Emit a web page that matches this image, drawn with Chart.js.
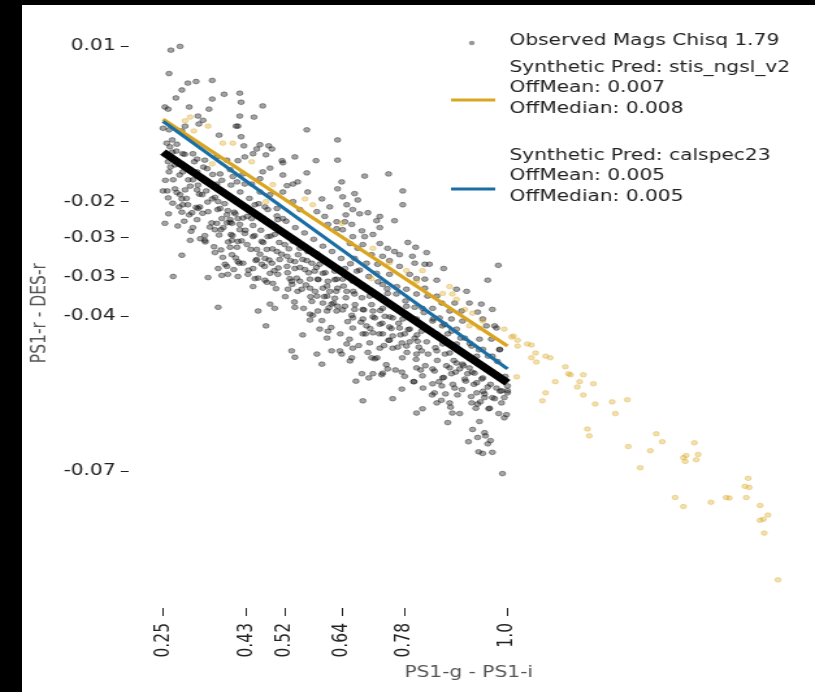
<!DOCTYPE html>
<html>
<head>
<meta charset="utf-8">
<script src="https://cdn.jsdelivr.net/npm/chart.js@4.4.1/dist/chart.umd.min.js"></script>
<style>
  body { margin: 0; background: #000; }
  #paper { position: absolute; left: 22px; top: 5px; width: 793px; height: 687px; background: #fff; overflow: hidden; }
  /* the reference figure is stretched horizontally, so stretch the canvas the same way */
  #stretch { width: 610px; height: 687px; transform: scaleX(1.3); transform-origin: 0 0; }
</style>
</head>
<body>
<div id="paper"><div id="stretch"><canvas id="mycanvas" width="610" height="687"></canvas></div></div>
<script>
// observed stars: [PS1-g - PS1-i, PS1-r - DES-r]
var observed = [
  [0.267,0.0093],[0.287,0.0100],[0.263,0.0049],[0.304,0.0031],[0.322,0.0034],[0.357,0.0036],[0.291,0.0018],[0.278,0.0003],
  [0.357,0.0001],[0.383,0.0010],[0.417,0.0012],[0.420,-0.0005],[0.254,-0.0014],[0.261,-0.0018],[0.307,-0.0014],[0.350,-0.0018],
  [0.417,-0.0031],[0.326,-0.0031],[0.337,-0.0039],[0.328,-0.0046],[0.409,-0.0050],[0.413,-0.0050],[0.250,-0.0054],[0.263,-0.0057],
  [0.298,-0.0050],[0.291,-0.0059],[0.372,-0.0067],[0.420,-0.0070],[0.270,-0.0076],[0.280,-0.0084],[0.426,-0.0087],[0.265,-0.0089],
  [0.270,-0.0099],[0.293,-0.0102],[0.315,-0.0102],[0.324,-0.0112],[0.341,-0.0114],[0.367,-0.0108],[0.389,-0.0114],[0.413,-0.0115],
  [0.428,-0.0108],[0.261,-0.0117],[0.276,-0.0123],[0.298,-0.0127],[0.263,-0.0136],[0.293,-0.0136],[0.324,-0.0136],[0.346,-0.0130],
  [0.374,-0.0140],[0.396,-0.0132],[0.402,-0.0145],[0.424,-0.0140],[0.272,-0.0151],[0.315,-0.0151],[0.341,-0.0151],[0.367,-0.0159],
  [0.411,-0.0155],[0.428,-0.0159],
  [0.250,-0.0172],[0.259,-0.0172],[0.261,-0.0185],[0.280,-0.0175],[0.287,-0.0179],[0.291,-0.0187],[0.298,-0.0170],[0.293,-0.0198],
  [0.304,-0.0198],[0.285,-0.0202],[0.324,-0.0170],[0.335,-0.0179],[0.357,-0.0187],[0.370,-0.0192],[0.326,-0.0205],[0.330,-0.0202],
  [0.313,-0.0213],[0.307,-0.0217],[0.348,-0.0211],[0.374,-0.0205],[0.391,-0.0209],[0.407,-0.0215],[0.378,-0.0224],[0.396,-0.0226],
  [0.413,-0.0224],[0.433,-0.0220],[0.367,-0.0233],[0.389,-0.0232],[0.400,-0.0233],[0.417,-0.0235],[0.254,-0.0233],[0.324,-0.0226],
  [0.363,-0.0245],[0.376,-0.0245],[0.398,-0.0254],[0.417,-0.0245],[0.428,-0.0252],[0.341,-0.0256],[0.341,-0.0265],[0.309,-0.0265],
  [0.400,-0.0265],[0.413,-0.0267],[0.396,-0.0278],[0.433,-0.0273],[0.363,-0.0288],[0.291,-0.0293],[0.400,-0.0292],[0.380,-0.0297],
  [0.385,-0.0310],[0.370,-0.0318],[0.389,-0.0314],[0.413,-0.0305],[0.424,-0.0308],[0.404,-0.0320],[0.391,-0.0329],[0.378,-0.0331],
  [0.413,-0.0333],[0.435,-0.0329],[0.272,-0.0333],[0.348,-0.0335],[0.370,-0.0391],
  [0.467,-0.0012],[0.448,-0.0033],[0.563,-0.0057],[0.630,-0.0076],[0.461,-0.0085],[0.480,-0.0087],[0.487,-0.0093],[0.454,-0.0093],
  [0.474,-0.0104],[0.446,-0.0102],[0.537,-0.0108],[0.583,-0.0115],[0.630,-0.0114],[0.509,-0.0115],[0.511,-0.0119],[0.483,-0.0129],
  [0.467,-0.0136],[0.563,-0.0138],[0.511,-0.0142],[0.533,-0.0159],[0.543,-0.0155],[0.461,-0.0149],[0.443,-0.0159],[0.520,-0.0162],
  [0.630,-0.0168],[0.565,-0.0174],[0.511,-0.0174],[0.461,-0.0174],[0.483,-0.0179],[0.596,-0.0187],[0.533,-0.0192],[0.613,-0.0202],
  [0.450,-0.0198],[0.472,-0.0202],[0.498,-0.0205],[0.548,-0.0207],[0.585,-0.0211],[0.602,-0.0220],[0.628,-0.0230],[0.500,-0.0226],
  [0.467,-0.0224],[0.511,-0.0224],[0.609,-0.0235],[0.628,-0.0243],[0.443,-0.0224],
  [0.446,-0.0258],[0.465,-0.0267],[0.478,-0.0258],[0.493,-0.0254],[0.454,-0.0282],[0.476,-0.0282],[0.498,-0.0286],[0.515,-0.0273],
  [0.533,-0.0267],[0.548,-0.0280],[0.565,-0.0286],[0.585,-0.0290],[0.454,-0.0301],[0.472,-0.0299],[0.487,-0.0308],[0.504,-0.0301],
  [0.520,-0.0295],[0.537,-0.0305],[0.554,-0.0301],[0.574,-0.0308],[0.591,-0.0310],[0.613,-0.0308],[0.446,-0.0318],[0.465,-0.0310],
  [0.483,-0.0327],[0.500,-0.0329],[0.520,-0.0314],[0.537,-0.0318],[0.559,-0.0320],[0.580,-0.0323],[0.598,-0.0327],[0.624,-0.0323],
  [0.450,-0.0337],[0.472,-0.0340],[0.489,-0.0346],[0.526,-0.0337],[0.530,-0.0342],[0.548,-0.0342],[0.570,-0.0338],[0.587,-0.0338],
  [0.609,-0.0342],[0.628,-0.0338],[0.446,-0.0352],[0.522,-0.0357],[0.543,-0.0361],[0.552,-0.0357],[0.570,-0.0355],[0.598,-0.0355],
  [0.613,-0.0361],[0.630,-0.0355],[0.585,-0.0370],[0.607,-0.0370],[0.624,-0.0374],[0.574,-0.0380],[0.598,-0.0383],[0.617,-0.0385],
  [0.630,-0.0389],[0.483,-0.0385],[0.493,-0.0393],[0.457,-0.0398],[0.537,-0.0391],[0.587,-0.0398],[0.607,-0.0398],[0.570,-0.0404],
  [0.628,-0.0398],[0.570,-0.0415],[0.474,-0.0426],[0.591,-0.0432],[0.609,-0.0436],[0.607,-0.0449],[0.554,-0.0443],[0.530,-0.0473],
  [0.537,-0.0485],[0.585,-0.0479],[0.617,-0.0473],[0.635,-0.0473],[0.596,-0.0498],
  [0.689,-0.0144],[0.741,-0.0140],[0.639,-0.0155],[0.772,-0.0172],[0.667,-0.0177],[0.641,-0.0183],[0.674,-0.0189],[0.772,-0.0198],
  [0.650,-0.0198],[0.663,-0.0207],[0.678,-0.0215],[0.696,-0.0213],[0.722,-0.0220],[0.648,-0.0217],[0.715,-0.0228],[0.754,-0.0228],
  [0.646,-0.0230],[0.641,-0.0245],[0.661,-0.0235],[0.683,-0.0247],[0.722,-0.0241],[0.663,-0.0258],[0.689,-0.0258],[0.707,-0.0254],
  [0.783,-0.0269],[0.800,-0.0278],[0.657,-0.0271],[0.685,-0.0273],[0.722,-0.0271],[0.739,-0.0280],[0.674,-0.0280],[0.824,-0.0288],
  [0.754,-0.0286],[0.704,-0.0292],[0.728,-0.0295],[0.765,-0.0292],[0.793,-0.0295],[0.667,-0.0299],[0.693,-0.0308],[0.717,-0.0310],
  [0.743,-0.0303],[0.765,-0.0314],[0.798,-0.0308],[0.820,-0.0310],[0.646,-0.0318],[0.672,-0.0323],[0.715,-0.0327],[0.743,-0.0329],
  [0.787,-0.0329],[0.802,-0.0337],[0.820,-0.0338],[0.641,-0.0338],[0.663,-0.0342],[0.683,-0.0352],[0.728,-0.0348],[0.759,-0.0352],
  [0.780,-0.0357],[0.650,-0.0361],[0.667,-0.0366],[0.700,-0.0370],[0.739,-0.0365],[0.802,-0.0366],[0.820,-0.0355],[0.826,-0.0370],
  [0.646,-0.0389],[0.667,-0.0395],[0.685,-0.0395],[0.707,-0.0398],[0.728,-0.0393],[0.761,-0.0395],[0.780,-0.0389],[0.815,-0.0393],
  [0.663,-0.0411],[0.685,-0.0413],[0.711,-0.0411],[0.733,-0.0408],[0.750,-0.0411],[0.772,-0.0413],[0.802,-0.0413],[0.663,-0.0430],
  [0.693,-0.0426],[0.722,-0.0423],[0.743,-0.0428],[0.765,-0.0430],[0.787,-0.0432],[0.813,-0.0436],[0.685,-0.0441],[0.707,-0.0439],
  [0.728,-0.0441],[0.750,-0.0445],[0.776,-0.0441],[0.798,-0.0449],[0.700,-0.0458],[0.743,-0.0453],[0.770,-0.0458],[0.804,-0.0455],
  [0.650,-0.0460],[0.663,-0.0468],[0.722,-0.0468],[0.750,-0.0468],[0.780,-0.0464],[0.813,-0.0473],[0.639,-0.0479],[0.802,-0.0479],
  [0.661,-0.0486],[0.657,-0.0492],[0.704,-0.0486],[0.711,-0.0488],[0.739,-0.0507],[0.728,-0.0515],[0.726,-0.0518],[0.770,-0.0513],
  [0.707,-0.0516],[0.683,-0.0516],[0.698,-0.0524],[0.802,-0.0505],[0.815,-0.0520],[0.670,-0.0530],[0.796,-0.0531],[0.770,-0.0545],
  [0.685,-0.0567],[0.750,-0.0563],[0.815,-0.0582],[0.802,-0.0590],
  [0.980,-0.0312],[0.861,-0.0318],[0.957,-0.0340],[0.846,-0.0340],[0.830,-0.0310],[0.889,-0.0357],[0.911,-0.0361],[0.846,-0.0370],
  [0.857,-0.0383],[0.885,-0.0383],[0.917,-0.0383],[0.943,-0.0385],[0.967,-0.0395],[0.935,-0.0400],[0.900,-0.0398],[0.874,-0.0398],
  [0.837,-0.0393],[0.852,-0.0411],[0.878,-0.0413],[0.902,-0.0417],[0.946,-0.0413],[0.837,-0.0417],[0.863,-0.0423],[0.889,-0.0432],
  [0.954,-0.0426],[0.976,-0.0430],[0.846,-0.0441],[0.870,-0.0441],[0.907,-0.0449],[0.939,-0.0451],[0.965,-0.0451],[0.983,-0.0470],
  [0.859,-0.0460],[0.889,-0.0460],[0.922,-0.0464],[0.946,-0.0470],[0.846,-0.0473],[0.874,-0.0477],[0.907,-0.0479],[0.933,-0.0483],
  [0.967,-0.0483],[0.972,-0.0426],[0.983,-0.0471],
  [0.889,-0.0496],[0.902,-0.0498],[0.874,-0.0505],[0.896,-0.0507],[0.917,-0.0505],[0.837,-0.0507],[0.928,-0.0515],[0.913,-0.0516],
  [0.878,-0.0516],[0.859,-0.0524],[0.909,-0.0530],[0.933,-0.0533],[0.946,-0.0524],[0.837,-0.0535],[0.857,-0.0539],[0.885,-0.0543],
  [0.957,-0.0541],[0.976,-0.0543],[0.987,-0.0548],[1.000,-0.0552],[0.841,-0.0552],[0.865,-0.0554],[0.933,-0.0552],[0.950,-0.0554],
  [0.972,-0.0563],[0.993,-0.0561],[0.950,-0.0561],[0.846,-0.0571],[0.874,-0.0571],[0.922,-0.0571],[0.935,-0.0573],[0.959,-0.0582],
  [0.880,-0.0590],[0.998,-0.0593],[0.993,-0.0599],[0.939,-0.0606],[0.870,-0.0608],[0.924,-0.0621],[0.950,-0.0627],[0.935,-0.0636],
  [0.952,-0.0633],[0.963,-0.0642],[0.915,-0.0644],[0.957,-0.0648],[0.937,-0.0663],[0.946,-0.0666],[0.967,-0.0664],[0.989,-0.0704],
  [1.000,-0.0539],[1.000,-0.0548],
  // crowded core of the cloud, where single markers overlap
  [0.258,-0.0082],[0.266,-0.0127],[0.255,-0.0152],[0.271,-0.0195],[0.262,-0.0215],
  [0.279,-0.0097],[0.286,-0.0142],[0.276,-0.0168],[0.291,-0.0212],[0.284,-0.0121],[0.282,-0.0238],
  [0.297,-0.0103],[0.305,-0.0151],[0.301,-0.0186],[0.309,-0.0163],[0.296,-0.0229],[0.311,-0.0248],
  [0.318,-0.0117],[0.326,-0.0161],[0.322,-0.0203],[0.315,-0.0241],[0.329,-0.0178],[0.331,-0.0262],
  [0.338,-0.0127],[0.344,-0.0172],[0.336,-0.0214],[0.347,-0.0193],[0.342,-0.0268],[0.352,-0.0240],
  [0.358,-0.0141],[0.363,-0.0184],[0.356,-0.0232],[0.369,-0.0207],[0.361,-0.0277],[0.372,-0.0255],
  [0.378,-0.0152],[0.384,-0.0196],[0.381,-0.0241],[0.376,-0.0283],[0.389,-0.0217],[0.392,-0.0268],
  [0.398,-0.0161],[0.405,-0.0212],[0.401,-0.0256],[0.396,-0.0231],[0.408,-0.0298],[0.411,-0.0278],
  [0.418,-0.0174],[0.424,-0.0223],[0.421,-0.0266],[0.429,-0.0246],[0.416,-0.0308],
  [0.438,-0.0186],[0.446,-0.0237],[0.441,-0.0282],[0.449,-0.0256],[0.436,-0.0321],[0.452,-0.0303],
  [0.458,-0.0196],[0.463,-0.0246],[0.461,-0.0291],[0.468,-0.0269],[0.457,-0.0336],[0.471,-0.0314],
  [0.478,-0.0207],[0.484,-0.0257],[0.481,-0.0302],[0.488,-0.0281],[0.476,-0.0344],[0.492,-0.0322],
  [0.498,-0.0219],[0.503,-0.0269],[0.501,-0.0317],[0.508,-0.0291],[0.496,-0.0356],
  [0.518,-0.0229],[0.524,-0.0281],[0.521,-0.0326],[0.527,-0.0303],[0.516,-0.0371],[0.531,-0.0348],
  [0.538,-0.0241],[0.544,-0.0292],[0.541,-0.0336],[0.548,-0.0316],[0.536,-0.0381],
  [0.558,-0.0251],[0.563,-0.0303],[0.561,-0.0349],[0.567,-0.0326],[0.556,-0.0393],[0.571,-0.0371],
  [0.578,-0.0263],[0.584,-0.0316],[0.581,-0.0361],[0.588,-0.0339],[0.576,-0.0406],
  [0.598,-0.0276],[0.603,-0.0326],[0.601,-0.0371],[0.607,-0.0351],[0.596,-0.0416],[0.611,-0.0392],
  [0.618,-0.0286],[0.624,-0.0339],[0.621,-0.0383],[0.627,-0.0361],[0.616,-0.0429],
  [0.638,-0.0299],[0.643,-0.0351],[0.641,-0.0396],[0.648,-0.0373],[0.636,-0.0441],[0.652,-0.0418],
  [0.658,-0.0309],[0.664,-0.0361],[0.661,-0.0406],[0.668,-0.0386],[0.656,-0.0451],
  [0.678,-0.0321],[0.683,-0.0373],[0.681,-0.0419],[0.687,-0.0396],[0.676,-0.0463],[0.691,-0.0441],
  [0.698,-0.0333],[0.704,-0.0386],[0.701,-0.0431],[0.707,-0.0409],[0.696,-0.0476],
  [0.718,-0.0343],[0.723,-0.0397],[0.721,-0.0441],[0.727,-0.0421],[0.716,-0.0486],[0.731,-0.0463],
  [0.738,-0.0356],[0.744,-0.0409],[0.741,-0.0453],[0.747,-0.0431],[0.736,-0.0499],
  [0.758,-0.0366],[0.763,-0.0421],[0.761,-0.0466],[0.767,-0.0443],[0.756,-0.0509],[0.771,-0.0486],
  [0.778,-0.0379],[0.784,-0.0433],[0.781,-0.0476],[0.787,-0.0456],[0.776,-0.0521],
  [0.798,-0.0391],[0.803,-0.0443],[0.801,-0.0489],[0.807,-0.0466],[0.796,-0.0531],[0.811,-0.0509],
  [0.818,-0.0401],[0.824,-0.0456],[0.821,-0.0501],[0.827,-0.0479],[0.816,-0.0543],
  [0.838,-0.0413],[0.843,-0.0467],[0.841,-0.0511],[0.847,-0.0491],[0.836,-0.0556],[0.851,-0.0531],
  [0.858,-0.0426],[0.864,-0.0479],[0.861,-0.0523],[0.867,-0.0501],[0.856,-0.0566],
  [0.878,-0.0436],[0.883,-0.0491],[0.881,-0.0536],[0.887,-0.0513],[0.876,-0.0579],[0.891,-0.0556],
  [0.898,-0.0449],[0.904,-0.0501],[0.901,-0.0546],[0.907,-0.0526],[0.896,-0.0591],
  [0.918,-0.0459],[0.923,-0.0513],[0.921,-0.0559],[0.927,-0.0536],[0.931,-0.0581],
  [0.938,-0.0471],[0.944,-0.0526],[0.941,-0.0569],[0.947,-0.0549],
  [0.958,-0.0483],[0.963,-0.0536],[0.961,-0.0581],[0.967,-0.0561],
  [0.978,-0.0493],[0.984,-0.0549],[0.981,-0.0591],[0.987,-0.0571],[0.995,-0.0521]
];

// synthetic stis_ngsl_v2 colours
var synthetic = [
  [0.309,-0.0033],[0.298,-0.0040],[0.348,-0.0050],[0.317,-0.0059],[0.380,-0.0082],[0.402,-0.0082],[0.357,-0.0121],[0.443,-0.0117],
  [0.489,-0.0160],[0.474,-0.0192],[0.559,-0.0187],[0.576,-0.0198],[0.639,-0.0233],[0.707,-0.0280],[0.743,-0.0307],[0.780,-0.0322],
  [0.815,-0.0322],[0.704,-0.0337],[0.802,-0.0342],[0.874,-0.0352],[0.859,-0.0365],[0.880,-0.0366],[0.889,-0.0376],[0.907,-0.0395],
  [0.924,-0.0402],[0.946,-0.0417],[0.917,-0.0426],[0.939,-0.0430],
  [0.993,-0.0432],[1.009,-0.0447],[1.013,-0.0445],[1.022,-0.0453],[1.022,-0.0464],[1.043,-0.0460],[1.052,-0.0462],[1.061,-0.0477],
  [1.052,-0.0486],[1.063,-0.0494],[1.083,-0.0483],[1.093,-0.0486],[1.020,-0.0522],[1.126,-0.0503],[1.133,-0.0516],[1.137,-0.0518],
  [1.165,-0.0518],[1.104,-0.0531],[1.157,-0.0531],[1.152,-0.0541],[1.187,-0.0535],[1.083,-0.0552],[1.076,-0.0567],[1.165,-0.0556],
  [1.191,-0.0573],[1.228,-0.0569],[1.261,-0.0565],[1.235,-0.0591],[1.174,-0.0620],[1.178,-0.0633],[1.324,-0.0629],[1.337,-0.0644],
  [1.263,-0.0653],[1.311,-0.0661],[1.407,-0.0646],[1.415,-0.0668],[1.389,-0.0670],[1.383,-0.0674],[1.411,-0.0678],[1.387,-0.0681],
  [1.289,-0.0693],[1.365,-0.0749],[1.383,-0.0766],[1.443,-0.0758],[1.476,-0.0749],[1.483,-0.0750],[1.524,-0.0713],[1.517,-0.0728],
  [1.526,-0.0730],[1.520,-0.0749],[1.550,-0.0764],[1.567,-0.0782],[1.557,-0.0790],[1.550,-0.0792],[1.559,-0.0816],[1.589,-0.0904]
];

// fitted colour terms, evaluated at the ends of the observed range
var fitX = [0.25, 1.0];
var fitStis = [-0.0037, -0.0464];
var fitCalspec = [-0.0041, -0.0507];
var fitObserved = [-0.0099, -0.0533];

var xTickValues = [0.25, 0.432, 0.515, 0.640, 0.776, 1.0];
var xTickLabels = ['0.25', '0.43', '0.52', '0.64', '0.78', '1.0'];
var yTickValues = [0.0100, -0.0192, -0.0260, -0.0334, -0.0408, -0.0700];
var yTickLabels = ['0.01', '-0.02', '-0.03', '-0.03', '-0.04', '-0.07'];

var legendLabels = [
  ['Observed Mags Chisq 1.79'],
  ['Synthetic Pred: stis_ngsl_v2', 'OffMean: 0.007', 'OffMedian: 0.008'],
  ['Synthetic Pred: calspec23', 'OffMean: 0.005', 'OffMedian: 0.005']
];

var GOLD = '#DAA520';
var BLUE = '#1b6ea3';
var FONT = { family: '"DejaVu Sans", sans-serif', size: 15.5 };

function toXY(pairs) {
  return pairs.map(function(p) { return { x: p[0], y: p[1] }; });
}
function fitLine(ys) {
  return fitX.map(function(x, i) { return { x: x, y: ys[i] }; });
}

var legendPlugin = {
  id: 'boxLegend',
  afterDraw: function(chart) {
    var ctx = chart.ctx;
    ctx.save();
    // handles
    ctx.beginPath();
    ctx.arc(346, 38, 2.3, 0, Math.PI * 2);
    ctx.fillStyle = 'rgba(0,0,0,0.4)';
    ctx.fill();
    ctx.lineWidth = 3;
    ctx.strokeStyle = GOLD;
    ctx.beginPath(); ctx.moveTo(330, 95); ctx.lineTo(364, 95); ctx.stroke();
    ctx.strokeStyle = BLUE;
    ctx.beginPath(); ctx.moveTo(330, 184); ctx.lineTo(364, 184); ctx.stroke();
    // text
    ctx.fillStyle = '#222';
    ctx.font = FONT.size + 'px ' + FONT.family;
    ctx.textBaseline = 'middle';
    var tops = [36, 63, 151];
    legendLabels.forEach(function(lines, i) {
      lines.forEach(function(t, j) {
        ctx.fillText(t, 375, tops[i] + j * 20.3);
      });
    });
    ctx.restore();
  }
};

var ctx = document.getElementById('mycanvas');

var chart = new Chart(ctx, {
  type: 'scatter',
  data: {
    datasets: [
      {
        label: 'Observed Mags',
        data: toXY(observed),
        pointRadius: 2.4,
        pointBorderWidth: 0.8,
        backgroundColor: 'rgba(0,0,0,0.36)',
        borderColor: 'rgba(0,0,0,0.45)',
        order: 4
      },
      {
        label: 'stis_ngsl_v2 points',
        data: toXY(synthetic),
        pointRadius: 2.3,
        pointBorderWidth: 0.8,
        backgroundColor: 'rgba(218,165,32,0.35)',
        borderColor: 'rgba(218,165,32,0.45)',
        order: 3
      },
      {
        label: 'Observed fit',
        data: fitLine(fitObserved),
        showLine: true,
        pointRadius: 0,
        borderColor: '#000',
        borderWidth: 7,
        order: 2
      },
      {
        label: 'stis_ngsl_v2 fit',
        data: fitLine(fitStis),
        showLine: true,
        pointRadius: 0,
        borderColor: GOLD,
        borderWidth: 3.2,
        order: 1
      },
      {
        label: 'calspec23 fit',
        data: fitLine(fitCalspec),
        showLine: true,
        pointRadius: 0,
        borderColor: BLUE,
        borderWidth: 3.2,
        order: 0
      }
    ]
  },
  options: {
    responsive: false,
    animation: false,
    devicePixelRatio: 1,
    layout: { padding: { left: 0, right: 4, top: 11, bottom: 0 } },
    plugins: { legend: { display: false }, tooltip: { enabled: false } },
    scales: {
      x: {
        type: 'linear',
        min: 0.175,
        max: 1.656,
        afterBuildTicks: function(axis) {
          axis.ticks = xTickValues.map(function(v) { return { value: v }; });
        },
        afterFit: function(axis) { axis.height = 84; },
        ticks: {
          autoSkip: false,
          minRotation: 90,
          maxRotation: 90,
          padding: 7,
          color: '#222',
          font: FONT,
          callback: function(v, i) { return xTickLabels[i]; }
        },
        grid: { drawOnChartArea: false, tickLength: 8, color: '#222' },
        border: { display: false },
        title: { display: true, text: 'PS1-g - PS1-i', color: '#555', font: FONT, padding: { top: 0, bottom: 10 } }
      },
      y: {
        type: 'linear',
        min: -0.0957,
        max: 0.0153,
        afterBuildTicks: function(axis) {
          axis.ticks = yTickValues.map(function(v) { return { value: v }; });
        },
        afterFit: function(axis) { axis.width = 82; },
        ticks: {
          autoSkip: false,
          padding: 4,
          color: '#222',
          font: FONT,
          callback: function(v, i) { return yTickLabels[i]; }
        },
        grid: { drawOnChartArea: false, tickLength: 6, color: '#222' },
        border: { display: false },
        title: { display: true, text: 'PS1-r - DES-r', color: '#555', font: FONT, padding: { top: 5, bottom: 0 } }
      }
    }
  },
  plugins: [legendPlugin]
});
</script>
</body>
</html>
